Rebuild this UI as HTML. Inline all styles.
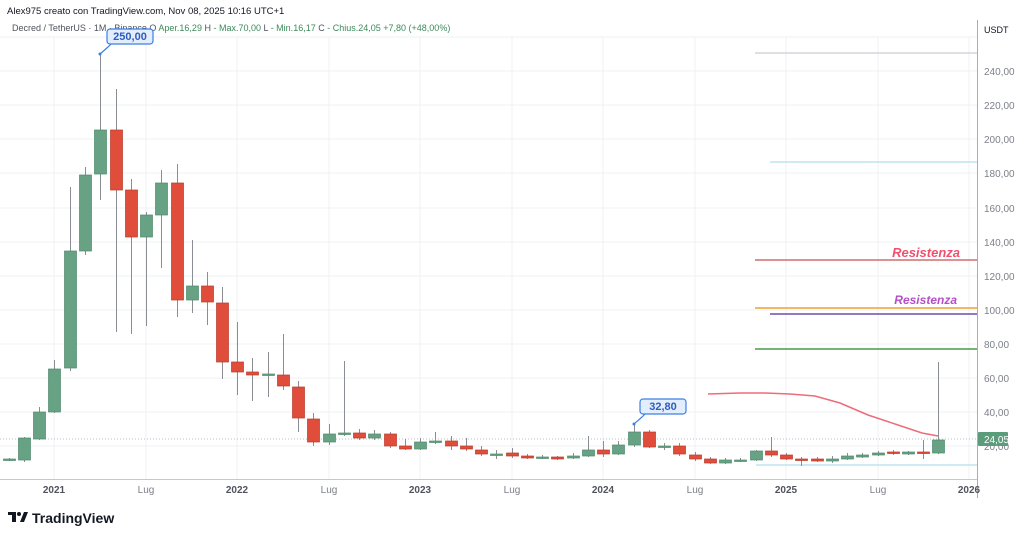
<!DOCTYPE html>
<html><head><meta charset="utf-8"><style>
html,body{margin:0;padding:0;background:#fff;width:1024px;height:538px;overflow:hidden;font-family:"Liberation Sans",sans-serif}
</style></head><body>
<svg id="s" width="1024" height="538" viewBox="0 0 1024 538" xmlns="http://www.w3.org/2000/svg" font-family="Liberation Sans, sans-serif">
<g stroke="#eef0f3" stroke-width="1">
<line x1="0" y1="37" x2="977" y2="37"/>
<line x1="0" y1="71" x2="977" y2="71"/><line x1="0" y1="105" x2="977" y2="105"/><line x1="0" y1="139" x2="977" y2="139"/><line x1="0" y1="173" x2="977" y2="173"/><line x1="0" y1="208" x2="977" y2="208"/><line x1="0" y1="242" x2="977" y2="242"/><line x1="0" y1="276" x2="977" y2="276"/><line x1="0" y1="310" x2="977" y2="310"/><line x1="0" y1="344" x2="977" y2="344"/><line x1="0" y1="378" x2="977" y2="378"/><line x1="0" y1="412" x2="977" y2="412"/><line x1="0" y1="446" x2="977" y2="446"/>
<line x1="54" y1="37" x2="54" y2="479"/><line x1="146" y1="37" x2="146" y2="479"/><line x1="237" y1="37" x2="237" y2="479"/><line x1="329" y1="37" x2="329" y2="479"/><line x1="420" y1="37" x2="420" y2="479"/><line x1="512" y1="37" x2="512" y2="479"/><line x1="603" y1="37" x2="603" y2="479"/><line x1="695" y1="37" x2="695" y2="479"/><line x1="786" y1="37" x2="786" y2="479"/><line x1="878" y1="37" x2="878" y2="479"/><line x1="969" y1="37" x2="969" y2="479"/>
</g>
<line x1="0" y1="439" x2="977" y2="439" stroke="#b8bcc4" stroke-width="1" stroke-dasharray="1,2"/>
<!-- horizontal levels -->
<line x1="755" y1="53" x2="977" y2="53" stroke="#d4d6da" stroke-width="1.5"/>
<line x1="770" y1="162" x2="977" y2="162" stroke="#bfe3ee" stroke-width="1.5"/>
<line x1="755" y1="260" x2="977" y2="260" stroke="#cf6e6e" stroke-width="1.5"/>
<line x1="755" y1="308" x2="977" y2="308" stroke="#f0a030" stroke-width="1.5"/>
<line x1="770" y1="314" x2="977" y2="314" stroke="#6a4fb0" stroke-width="1.5"/>
<line x1="755" y1="349" x2="977" y2="349" stroke="#4a9a4a" stroke-width="1.5"/>
<line x1="756" y1="465" x2="977" y2="465" stroke="#bfe3ee" stroke-width="1.5"/>
<text x="960" y="257" text-anchor="end" font-size="13" font-weight="bold" font-style="italic" fill="#f0506e">Resistenza</text>
<text x="957" y="304" text-anchor="end" font-size="12" font-weight="bold" font-style="italic" fill="#b44fc8">Resistenza</text>
<path d="M708,394 L740,393 L765,393 L790,394 L815,396 L840,403 L868,415 L898,425 L922,433 L938,436" fill="none" stroke="#ef6b78" stroke-width="1.5"/>
<g id="c"></g>
<!-- axes -->
<line x1="977.5" y1="20" x2="977.5" y2="498" stroke="#a9adb5" stroke-width="1"/>
<line x1="0" y1="479.5" x2="977" y2="479.5" stroke="#c4c7cc" stroke-width="1"/>
<g font-size="10" fill="#7d8089" text-anchor="start">
<text x="984" y="33" fill="#131722" font-size="9">USDT</text>
<text x="984" y="75">240,00</text><text x="984" y="109">220,00</text><text x="984" y="143">200,00</text><text x="984" y="177">180,00</text><text x="984" y="212">160,00</text><text x="984" y="246">140,00</text><text x="984" y="280">120,00</text><text x="984" y="314">100,00</text><text x="984" y="348">80,00</text><text x="984" y="382">60,00</text><text x="984" y="416">40,00</text><text x="984" y="450">20,00</text>
</g>
<rect x="978" y="432" width="30" height="14" rx="1" fill="#5b9c7b"/>
<text x="984" y="443" font-size="10" fill="#fff">24,05</text>
<g font-size="10" text-anchor="middle">
<text x="54" y="493" font-weight="bold" fill="#50535e">2021</text>
<text x="146" y="493" fill="#7d8089">Lug</text>
<text x="237" y="493" font-weight="bold" fill="#50535e">2022</text>
<text x="329" y="493" fill="#7d8089">Lug</text>
<text x="420" y="493" font-weight="bold" fill="#50535e">2023</text>
<text x="512" y="493" fill="#7d8089">Lug</text>
<text x="603" y="493" font-weight="bold" fill="#50535e">2024</text>
<text x="695" y="493" fill="#7d8089">Lug</text>
<text x="786" y="493" font-weight="bold" fill="#50535e">2025</text>
<text x="878" y="493" fill="#7d8089">Lug</text>
<text x="969" y="493" font-weight="bold" fill="#50535e">2026</text>
</g>
<!-- header -->
<text x="7" y="14" font-size="9.5" fill="#131722">Alex975 creato con TradingView.com, Nov 08, 2025 10:16 UTC+1</text>
<text x="12" y="31" font-size="9" fill="#50535e">Decred / TetherUS · 1M · Binance  O <tspan fill="#3c8a5a">Aper.16,29</tspan>  H <tspan fill="#3c8a5a">- Max.70,00</tspan>  L <tspan fill="#3c8a5a">- Min.16,17</tspan>  C <tspan fill="#3c8a5a">- Chius.24,05  +7,80 (+48,00%)</tspan></text>
<!-- callouts -->
<path d="M100,54 L108,47 L112,43" fill="none" stroke="#3d7fe6" stroke-width="1.2"/>
<circle cx="100" cy="54" r="1.5" fill="#3d7fe6"/>
<rect x="107" y="29" width="46" height="15" rx="3" fill="#e3eefc" stroke="#3d7fe6" stroke-width="1.2"/>
<text x="130" y="40" text-anchor="middle" font-size="11" font-weight="bold" fill="#2e5cc2">250,00</text>
<path d="M634,424 L642,417 L645,414" fill="none" stroke="#3d7fe6" stroke-width="1.2"/>
<circle cx="634" cy="424" r="1.5" fill="#3d7fe6"/>
<rect x="640" y="399" width="46" height="15" rx="3" fill="#e3eefc" stroke="#3d7fe6" stroke-width="1.2"/>
<text x="663" y="410" text-anchor="middle" font-size="11" font-weight="bold" fill="#2e5cc2">32,80</text>
<!-- logo -->
<g transform="translate(8,512)"><path d="M0,0 H8 V10 H4 V3 H0 Z" fill="#131722"/><circle cx="11" cy="2" r="2" fill="#131722"/><path d="M12,10 L16,0 H20 L16,10 Z" fill="#131722"/></g>
<text x="32" y="523" font-size="14" font-weight="bold" fill="#131722">TradingView</text>
</svg>
<script>
var d=[[9,459,460,458,461,'g'],[24,438,460,437,462,'g'],[39,412,439,407,440,'g'],[54,369,412,360,413,'g'],[70,251,368,187,371,'g'],[85,175,251,167,255,'g'],[100,130,174,54,200,'g'],[116,130,190,89,332,'r'],[131,190,237,179,334,'r'],[146,215,237,212,326,'g'],[161,183,215,170,268,'g'],[177,183,300,164,317,'r'],[192,286,300,240,313,'g'],[207,286,302,272,325,'r'],[222,303,362,287,379,'r'],[237,362,372,322,395,'r'],[252,372,375,358,401,'r'],[268,374,375,352,397,'g'],[283,375,386,334,390,'r'],[298,387,418,381,432,'r'],[313,419,442,413,446,'r'],[329,434,442,424,445,'g'],[344,433,434,361,436,'g'],[359,433,438,429,440,'r'],[374,434,438,430,440,'g'],[390,434,446,432,448,'r'],[405,446,449,439,450,'r'],[420,442,449,438,450,'g'],[435,441,442,432,444,'g'],[451,441,446,436,450,'r'],[466,446,449,438,451,'r'],[481,450,454,446,456,'r'],[496,454,455,450,459,'g'],[512,453,456,448,458,'r'],[527,456,458,454,459,'r'],[542,457,458,455,459,'g'],[557,457,459,456,460,'r'],[573,456,458,453,459,'g'],[588,450,456,436,457,'g'],[603,450,454,441,457,'r'],[618,445,454,441,455,'g'],[634,432,445,424,447,'g'],[649,432,447,430,448,'r'],[664,446,447,443,450,'g'],[679,446,454,443,456,'r'],[695,455,459,452,461,'r'],[710,459,463,457,464,'r'],[725,460,463,458,464,'g'],[740,460,461,458,462,'g'],[756,451,460,450,461,'g'],[771,451,455,437,457,'r'],[786,455,459,453,460,'r'],[801,459,460,457,466,'r'],[817,459,461,457,462,'r'],[832,459,461,456,463,'g'],[847,456,459,453,460,'g'],[862,455,457,453,458,'g'],[878,453,455,451,456,'g'],[893,452,453,450,455,'r'],[908,452,454,451,455,'g'],[923,452,453,440,459,'r'],[938,440,453,362,454,'g']];
var h='';
d.forEach(function(c){var f=c[5]=='g'?'#66a283':'#e04e3b',s=c[5]=='g'?'#4f8a6b':'#b8392b';
h+='<line x1="'+(c[0]+.5)+'" y1="'+c[3]+'" x2="'+(c[0]+.5)+'" y2="'+c[4]+'" stroke="#8a8d94" stroke-width="1"/>';
var hh=Math.max(1.5,c[2]-c[1]);
h+='<rect x="'+(c[0]-5.5)+'" y="'+c[1]+'" width="12" height="'+hh+'" fill="'+f+'" stroke="'+s+'" stroke-width="0.7"/>';});
document.getElementById('c').innerHTML=h;
</script>
</body></html>
